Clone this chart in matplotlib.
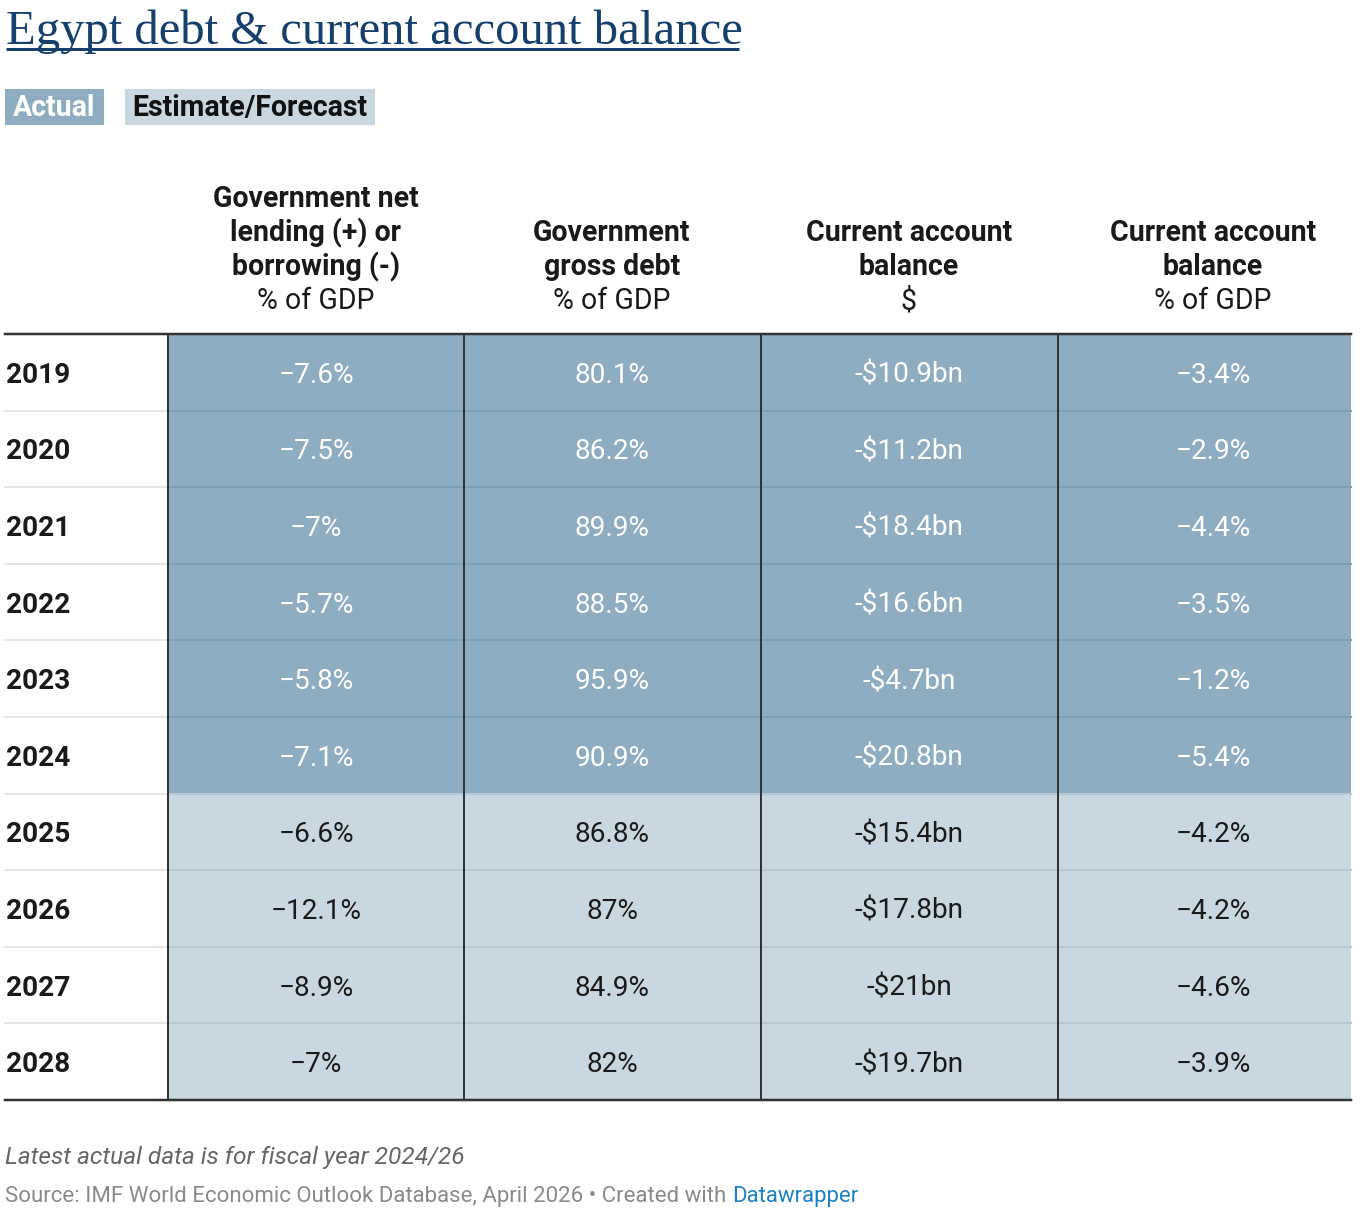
#!/usr/bin/env python3
''' Egypt debt & current account balance table, Datawrapper style
'''

import matplotlib
matplotlib.use('Agg')
from matplotlib import pyplot
from matplotlib.patches import Rectangle

#
# data
#

years = ['2019', '2020', '2021', '2022', '2023', '2024',
         '2025', '2026', '2027', '2028']
actual = [True] * 6 + [False] * 4

col_titles = [
    ['Government net', 'lending (+) or', 'borrowing (-)'],
    ['Government', 'gross debt'],
    ['Current account', 'balance'],
    ['Current account', 'balance'],
]
col_units = ['% of GDP', '% of GDP', '$', '% of GDP']

net_lending = ['\u22127.6%', '\u22127.5%', '\u22127%', '\u22125.7%', '\u22125.8%',
               '\u22127.1%', '\u22126.6%', '\u221212.1%', '\u22128.9%', '\u22127%']
gross_debt = ['80.1%', '86.2%', '89.9%', '88.5%', '95.9%',
              '90.9%', '86.8%', '87%', '84.9%', '82%']
ca_usd = ['-$10.9bn', '-$11.2bn', '-$18.4bn', '-$16.6bn', '-$4.7bn',
          '-$20.8bn', '-$15.4bn', '-$17.8bn', '-$21bn', '-$19.7bn']
ca_gdp = ['\u22123.4%', '\u22122.9%', '\u22124.4%', '\u22123.5%', '\u22121.2%',
          '\u22125.4%', '\u22124.2%', '\u22124.2%', '\u22124.6%', '\u22123.9%']
columns = [net_lending, gross_debt, ca_usd, ca_gdp]

title = 'Egypt debt & current account balance'
legend_labels = ['Actual', 'Estimate/Forecast']
note = 'Latest actual data is for fiscal year 2024/26'
source = 'Source: IMF World Economic Outlook Database, April 2026 \u2022 Created with '

#
# style
#

W, H = 1362, 1208
c_actual = '#8eadc1'
c_forecast = '#c9d7e0'
c_title = '#15406e'
font = 'Roboto'
px = 72 / 100  # points per pixel at dpi 100

# column geometry in pixels
col_edges = [168, 464, 761, 1058, 1351]
col_centers = [316, 612, 909, 1213]
table_top, table_bottom = 334, 1100
row_h = (table_bottom - table_top) / len(years)

#
# draw
#

fig = pyplot.figure(figsize=(W / 100, H / 100), dpi=100)
ax = fig.add_axes([0, 0, 1, 1])
ax.set_xlim(0, W)
ax.set_ylim(H, 0)
ax.axis('off')

# title with underline
t = ax.text(6, 44, title, family='Liberation Serif', fontsize=48.6 * px,
            color=c_title, ha='left', va='baseline')
ax.plot([6, 739], [49, 49], color=c_title, lw=3 * px, solid_capstyle='butt')

# legend boxes
lx = [5, 125]
lw_ = [99, 250]
for i, lab in enumerate(legend_labels):
    ax.add_patch(Rectangle((lx[i], 89), lw_[i], 36, lw=0,
                           color=c_actual if i == 0 else c_forecast))
    ax.text(lx[i] + lw_[i] / 2, 116, lab, family=font, weight='bold',
            fontsize=28.5 * px, color='white' if i == 0 else '#111111',
            ha='center', va='baseline')

# headers, bottom aligned
for j in range(4):
    lines = col_titles[j] + [col_units[j]]
    base = 309
    for k, line in enumerate(reversed(lines)):
        is_unit = k == 0
        ax.text(col_centers[j], base - 34 * k, line, family=font,
                weight='normal' if is_unit else 'bold',
                fontsize=28.5 * px, color='#1a1a1a',
                ha='center', va='baseline')

# rows
for i, yr in enumerate(years):
    y0 = table_top + i * row_h
    fill = c_actual if actual[i] else c_forecast
    ax.add_patch(Rectangle((col_edges[0], y0), col_edges[-1] - col_edges[0],
                           row_h, lw=0, color=fill))
    ax.text(6, y0 + row_h / 2 + 10.5, yr, family=font, weight='bold',
            fontsize=28 * px, color='#1a1a1a', ha='left', va='baseline')
    for j in range(4):
        ax.text(col_centers[j], y0 + row_h / 2 + 10.5, columns[j][i],
                family=font, fontsize=28 * px,
                color='white' if actual[i] else '#1a1a1a',
                ha='center', va='baseline')
    # row separators
    if i > 0:
        ax.plot([5, col_edges[0]], [y0, y0], color='#e6e6e6', lw=2 * px)
        sep = '#7f9fb4' if actual[i] else '#b8c8d3'
        ax.plot([col_edges[0], col_edges[-1]], [y0, y0], color=sep, lw=2 * px)

# vertical dividers
for x in col_edges[:4]:
    ax.plot([x, x], [table_top, table_bottom], color='#333333', lw=2 * px)

# top and bottom rules
for y in (table_top, table_bottom):
    ax.plot([5, col_edges[-1]], [y, y], color='#333333', lw=2.5 * px)

# footer
ax.text(5, 1164, note, family=font, style='italic', fontsize=24.5 * px,
        color='#666666', ha='left', va='baseline')
s = ax.text(5, 1202, source, family=font, fontsize=22.3 * px,
            color='#8a8a8a', ha='left', va='baseline')
ax.annotate('Datawrapper', xy=(1, 0), xycoords=s, family=font,
            fontsize=22.3 * px, color='#1d81c4', ha='left', va='bottom')

fig.savefig('out.png', dpi=100)
